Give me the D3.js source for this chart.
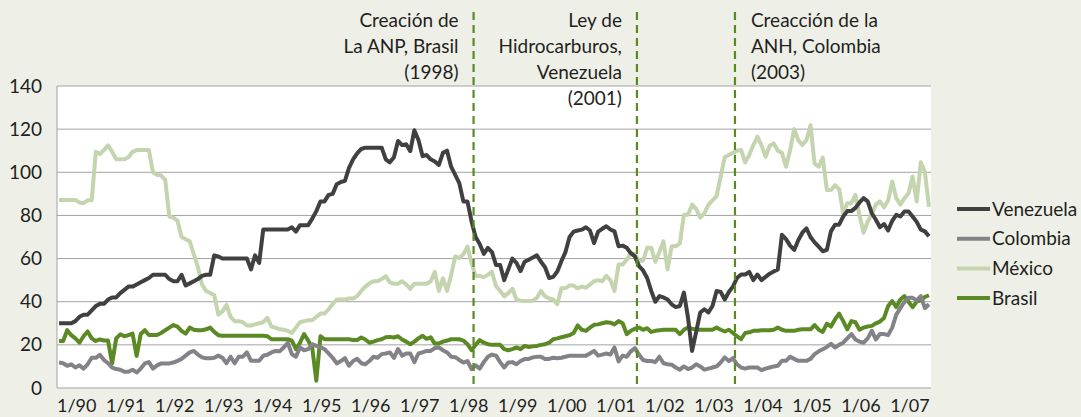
<!DOCTYPE html>
<html>
<head>
<meta charset="utf-8">
<script src="https://cdn.jsdelivr.net/npm/d3@7"></script>
<style>
  body { margin: 0; background: #eef0e8; }
  svg { display: block; font-family: Lato, "Noto Sans", sans-serif; }
</style>
</head>
<body>
<svg id="chart" width="1081" height="417"></svg>
<script>
// monthly values, 1/1990 .. 10/2007 (one row per year)
const venezuela = [
  30, 30, 30, 30, 31, 33, 34, 34, 36, 38, 39, 39,
  41, 42, 42, 44, 45.5, 47, 47, 48, 49, 50, 51, 52.5,
  52.5, 52.5, 52.5, 50.5, 49.5, 49.5, 52.5, 47.5, 48.5, 49.5, 50.5, 52,
  52.5, 52.5, 61.5, 61, 60, 60, 60, 60, 60, 60, 60, 55,
  61.5, 58, 73.5, 73.5, 73.5, 73.5, 73.5, 73.5, 73.5, 74.5, 72.5, 75.5,
  75.5, 75.5, 78.5, 82, 86.5, 86.5, 89.5, 90, 94.5, 95.5, 96, 102,
  106, 108.8, 110.8, 111.4, 111.4, 111.4, 111.4, 111.4, 106, 104.6, 107, 114.5,
  112.6, 113, 109.8, 119.5, 115, 107.5, 108, 106, 105, 103.4, 109, 110,
  102.6, 98.8, 95, 86.5, 86.5, 77.2, 70, 66.8, 62.2, 65, 63, 57,
  57, 50, 55, 60, 58, 54.2, 58.5, 59.5, 60.5, 61.5, 58.5, 56,
  51, 51.5, 54, 58.8, 63, 70, 72.5, 73, 73.4, 74.5, 73, 67.2,
  72.5, 73.8, 75, 73.5, 72.6, 65.7, 66, 65, 62.5, 61, 56.5, 54.5,
  51, 45, 40, 42.6, 42, 41, 38.8, 37.5, 38, 44.2, 32.6, 17.2,
  26, 35, 36.5, 35, 38, 45, 44.5, 41, 44.5, 47, 51, 52.6,
  52.6, 53.8, 50, 52.6, 50, 51.5, 53, 54, 55, 71, 69, 66,
  64, 68.5, 72, 74, 70, 67.5, 65.5, 63.4, 64, 72.6, 75.7, 75.7,
  79.5, 82, 82, 83.5, 86, 88, 86.5, 81, 78, 74.5, 76, 73,
  77.5, 80.3, 79.5, 81.8, 81.8, 79.5, 77, 73.4, 72.6, 70.3
];
const colombia = [
  11.8, 11.5, 10.3, 11, 9.5, 10.5, 9, 11, 14, 14, 15.4, 13,
  11.5, 9.5, 8.8, 8.5, 7.5, 7.5, 8.5, 7.2, 9, 11.4, 12, 9,
  10.5, 11.4, 11.4, 11.4, 11.8, 12.6, 13.5, 15, 16.5, 17.2, 15.5, 14.2,
  13.8, 13.8, 14, 15, 14, 11.5, 14.5, 11.5, 14.5, 14.5, 16.5, 12.6,
  12.6, 12.6, 15, 15.4, 16.5, 17.2, 17, 18.8, 21, 15.7, 14.5, 18.8,
  17.5, 18, 20.3, 19.5, 19, 18, 16, 14, 11.4, 12.5, 13.8, 10.3,
  12.5, 13.5, 11.5, 11, 12.5, 14.5, 14, 15.7, 16, 16.5, 14, 18,
  15, 16, 16, 12, 16, 16.5, 17.2, 17.2, 18.5, 18.8, 17.5, 16.5,
  14.5, 14.3, 13, 11.8, 12.5, 8.8, 10.5, 9, 12, 14.5, 15.5, 15,
  12, 9.5, 11.8, 12, 11, 12.5, 13.4, 13.5, 14.2, 14.5, 14.5, 13.4,
  13.5, 14, 13.8, 14, 14.5, 15, 15, 15, 15, 15, 16, 17.2,
  15, 15.5, 16, 15.5, 18.8, 12.3, 15, 14.5, 17, 18.5, 15.5, 13,
  12.5, 12.5, 12, 14.5, 11.5, 11, 10.8, 9.5, 8.5, 10, 8.8, 9.5,
  11, 10, 8.5, 9, 9.5, 10, 11.8, 14.2, 12.5, 13.8, 11, 9.5,
  9, 9.5, 9.5, 9.5, 8.3, 9, 9.5, 10, 10.3, 12.6, 12.6, 14.5,
  13.5, 12.6, 12.6, 12.6, 13.5, 15.7, 17, 18, 19, 20.5, 18.8, 20,
  21, 23, 25, 22.5, 21.5, 21, 23, 26.5, 22.5, 25, 25, 24.5,
  28, 34, 37, 40, 41.8, 41.8, 40.6, 42.6, 37, 38.8
];
const mexico = [
  87.2, 87.2, 87.2, 87.2, 87.2, 86, 85.7, 87, 87, 109.5, 108.5, 110.3,
  112.5, 109.5, 106, 106, 106, 107, 109.5, 110.3, 110.3, 110.3, 110.3, 100,
  98.8, 98.5, 96.5, 79.5, 79, 77.5, 70, 69, 68, 62, 56, 48,
  45, 44, 43, 34, 35.5, 38.5, 33, 31, 31, 30.5, 29, 29,
  29.5, 30, 30.5, 32.5, 28.5, 28, 27.2, 27, 26.5, 25.5, 28, 30.5,
  31, 31.4, 31.4, 33, 34.5, 34.5, 36.5, 39, 41, 41, 41, 41.5,
  41.5, 42.6, 45, 47, 48.5, 49.5, 49.5, 50.5, 51.8, 49, 48.3, 48.3,
  49.5, 48, 46, 48.3, 48.3, 48.3, 48.3, 49.5, 53.8, 45, 50.8, 45,
  52.3, 61, 60.3, 62, 65.5, 58, 51.8, 52, 51.4, 52.5, 53.8, 47.2,
  45, 42.5, 44, 46, 41, 40.5, 40.3, 40.3, 40.5, 41.8, 45, 42.5,
  41.5, 41, 38.8, 46.2, 46.3, 47.5, 47.5, 46.2, 47, 46.5, 48, 49.5,
  50, 49.5, 52, 50, 45, 57.2, 57.2, 59.5, 62.5, 62, 59, 59,
  65, 65, 58.5, 63, 68, 55, 65.7, 65.7, 67, 80.3, 80.3, 85,
  83, 79, 81, 85, 87, 89, 98, 107, 108, 109, 110, 110.3,
  104.6, 108, 112.6, 116.5, 112.5, 107.2, 112.3, 113.4, 110, 109, 102.6, 110.3,
  120, 115, 112.6, 115, 121.8, 104, 102.6, 106.8, 91.8, 91.8, 94, 92.3,
  81, 85.7, 85.7, 89.5, 80, 72, 77.2, 80.5, 85, 86.5, 83.7, 87,
  95.7, 88, 85, 88, 90.3, 98, 86.5, 104.6, 100.3, 84
];
const brasil = [
  21.8, 21.8, 26.8, 24.5, 23, 21, 24, 26.2, 23, 21.8, 22.5, 22,
  22, 11.4, 23, 24.9, 24, 24.5, 25.2, 14.9, 25, 26.8, 24.6, 24.6,
  24.6, 25.5, 26.8, 28, 29.2, 28.5, 26.5, 25.2, 28, 27, 26.8, 26.8,
  27.2, 28, 26, 24.5, 24.2, 24.2, 24.2, 24.2, 24.2, 24.2, 24.2, 24.2,
  24.2, 24.2, 24.2, 24, 22.6, 22.6, 22.6, 22.6, 22.6, 22, 18, 21,
  25, 22, 18.5, 3.4, 24, 22.6, 22.6, 22.6, 22.6, 22.6, 22.6, 22.6,
  22.2, 22.2, 23.4, 22.5, 21, 21.5, 22.2, 22.6, 23.5, 23.7, 23.4, 24,
  22.5, 21.5, 20.3, 21.5, 23, 24.2, 22.8, 23.5, 20.6, 20.6, 21.5, 22,
  22.6, 22.6, 22.6, 22, 20.3, 17.5, 20, 22.2, 21, 20.3, 20, 20,
  20, 18, 17.5, 18, 18.8, 18, 19.5, 19, 19.3, 19.5, 20, 20.3,
  21, 22.6, 23, 23.5, 24, 24.5, 25.5, 29, 27, 26.5, 28, 29.3,
  29.5, 30, 30.5, 30.3, 29.5, 31, 30, 25, 26.5, 27.5, 28, 27,
  27.7, 26, 26.5, 26.8, 27, 27, 27, 27, 25, 27, 28, 27.5,
  27, 27, 27, 27, 27, 28, 27, 26.2, 27, 25.5, 24, 22.6,
  25.5, 25.8, 26.5, 26.5, 26.8, 26.8, 26.8, 27, 28, 27, 26.5, 26.5,
  26.5, 27, 27.2, 27.2, 27.2, 29.2, 27, 26, 29.8, 28.5, 31.8, 34.5,
  31, 27.2, 31, 30.5, 27, 28, 28.5, 28.8, 30, 30.8, 32.5, 38,
  40.3, 37.5, 41, 42.6, 40, 37.5, 40, 40.6, 42.2, 43
];

const seriesNames = ["Venezuela", "Colombia", "México", "Brasil"];
const seriesValues = [venezuela, colombia, mexico, brasil];
const seriesColors = ["#404040", "#838288", "#c3d4ae", "#5b8a24"];

const yTicks = [0, 20, 40, 60, 80, 100, 120, 140];

const eventMonths = ["1998-07", "2001-11", "2003-11"];
const eventLabels = [
  ["Creación de", "La ANP, Brasil", "(1998)"],
  ["Ley de", "Hidrocarburos,", "Venezuela", "(2001)"],
  ["Creacción de la", "ANH, Colombia", "(2003)"]
];

const months = d3.timeMonth.range(new Date(1990, 0, 1), new Date(2007, 10, 1));
const parseMonth = d3.timeParse("%Y-%m");
const fmt = d3.timeFormat("%-m/%y");

const svg = d3.select("#chart");
const plotL = 57, plotR = 931, plotT = 86, plotB = 388;

const x = d3.scaleBand().domain(months.map(d => +d)).range([plotL, plotR]).padding(0);
const y = d3.scaleLinear().domain([0, 140]).range([plotB, plotT]);
const bw = x.bandwidth();

// plot area
svg.append("rect")
  .attr("x", plotL).attr("y", plotT)
  .attr("width", plotR - plotL).attr("height", plotB - plotT)
  .attr("fill", "#fff");

svg.append("g")
  .selectAll("line")
  .data(yTicks.filter(d => d > 0))
  .join("line")
  .attr("x1", plotL).attr("x2", plotR)
  .attr("y1", d => y(d)).attr("y2", d => y(d))
  .attr("stroke", "#a3a3a3").attr("stroke-width", 1);

// axes
const yAxis = svg.append("g")
  .attr("transform", `translate(${plotL},0)`)
  .call(d3.axisLeft(y).tickValues(yTicks).tickSize(0).tickPadding(15));
yAxis.select(".domain").remove();
yAxis.selectAll("text").attr("font-size", 19).attr("fill", "#231f20");
yAxis.attr("font-family", null);

svg.append("line")
  .attr("x1", plotL).attr("x2", plotL).attr("y1", plotT).attr("y2", plotB)
  .attr("stroke", "#a3a3a3");
svg.append("line")
  .attr("x1", plotL).attr("x2", plotR).attr("y1", plotB).attr("y2", plotB)
  .attr("stroke", "#a3a3a3");

const januaries = months.filter(d => d.getMonth() === 0).map(d => +d);
const xAxis = svg.append("g")
  .attr("transform", `translate(0,${plotB})`)
  .call(d3.axisBottom(x).tickValues(januaries).tickSize(0).tickPadding(11)
    .tickFormat(d => fmt(new Date(d))));
xAxis.select(".domain").remove();
xAxis.attr("font-family", null);
xAxis.selectAll("text")
  .attr("x", -bw / 2)
  .attr("text-anchor", "start")
  .attr("font-size", 18).attr("fill", "#231f20");

// series, first in legend drawn last
const line = d3.line()
  .x((d, i) => x(+months[i]) + bw / 2)
  .y(d => y(d));

svg.append("g")
  .selectAll("path")
  .data(d3.range(seriesNames.length).reverse())
  .join("path")
  .attr("d", k => line(seriesValues[k]))
  .attr("fill", "none")
  .attr("stroke", k => seriesColors[k])
  .attr("stroke-width", 4)
  .attr("stroke-linejoin", "round")
  .attr("stroke-linecap", "butt");

// event markers
const ev = svg.append("g");
eventMonths.forEach((m, k) => {
  const ex = x(+parseMonth(m));
  ev.append("line")
    .attr("x1", ex).attr("x2", ex).attr("y1", 12).attr("y2", plotB)
    .attr("stroke", "#5b8a24").attr("stroke-width", 2.2)
    .attr("stroke-dasharray", "8,5");
  const onLeft = k < 2;
  const t = ev.append("text")
    .attr("font-size", 19).attr("fill", "#231f20")
    .attr("text-anchor", onLeft ? "end" : "start");
  t.selectAll("tspan")
    .data(eventLabels[k])
    .join("tspan")
    .attr("x", onLeft ? ex - 15 : ex + 16)
    .attr("y", (d, i) => 27 + i * 26)
    .text(d => d);
});

// legend
const lg = svg.append("g")
  .selectAll("g")
  .data(seriesNames)
  .join("g")
  .attr("transform", (d, i) => `translate(957,${209 + i * 29.7})`);
lg.append("line")
  .attr("x1", 0).attr("x2", 33)
  .attr("stroke", (d, i) => seriesColors[i]).attr("stroke-width", 4);
lg.append("text")
  .attr("x", 35).attr("dy", "0.35em")
  .attr("font-size", 19).attr("fill", "#231f20")
  .text(d => d);
</script>
</body>
</html>
